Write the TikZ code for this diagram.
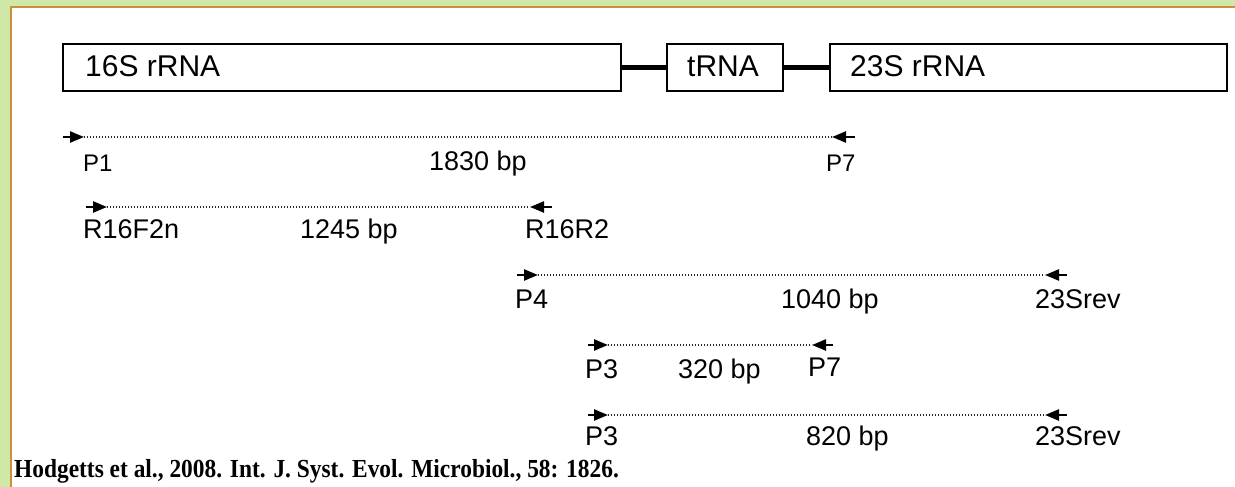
\documentclass[tikz,border=0pt]{standalone}
\usepackage{fontspec}
\setmainfont{Liberation Sans}
\newfontfamily\citefont[FakeStretch=0.9]{Liberation Serif}
\usetikzlibrary{arrows.meta}
\definecolor{bggreen}{HTML}{CFE8A8}
\definecolor{frameorange}{HTML}{C8923A}
\tikzset{
  gene/.style={draw=black, line width=1.8pt, fill=white},
  genelabel/.style={anchor=base west, inner sep=0pt, font=\fontsize{30}{30}\selectfont},
  link/.style={line width=5pt},
  amplicon/.style={draw=black!85, line width=1.2pt, dash pattern=on 1.4pt off 1.6pt},
  primer/.style={line width=2.4pt, -{Triangle[length=14pt,width=11pt]}},
  lab/.style={anchor=base west, inner sep=0pt, font=\fontsize{27}{27}\selectfont},
  smalllab/.style={anchor=base west, inner sep=0pt, font=\fontsize{24}{24}\selectfont},
}
\begin{document}
\begin{tikzpicture}[x=1pt,y=-1pt]
\useasboundingbox (0,0) rectangle (1235,487);
\fill[bggreen] (0,0) rectangle (1235,487);
\fill[white] (12,8) rectangle (1235,487);
\draw[frameorange, line width=2pt] (11,487) -- (11,7) -- (1235,7);
% genes
\draw[gene] (63,44) rectangle (621,91);
\draw[gene] (667,44) rectangle (783,91);
\draw[gene] (830,44) rectangle (1227,91);
\coordinate (g16r) at (621,67.5);
\coordinate (gtl) at (667,67.5);
\coordinate (gtr) at (783,67.5);
\coordinate (g23l) at (830,67.5);
\draw[link] (g16r) -- (gtl);
\draw[link] (gtr) -- (g23l);
\node[genelabel] (l16) at (85,77) {16S rRNA};
\node[genelabel] (lt) at (687,77) {tRNA};
\node[genelabel] (l23) at (850,77) {23S rRNA};
% row 1
\coordinate (a1) at (63,137); \coordinate (a1t) at (84,137);
\coordinate (b1) at (855,137); \coordinate (b1t) at (832,137);
\draw[amplicon] (a1t) -- (b1t);
\draw[primer] (a1) -- (a1t);
\draw[primer] (b1) -- (b1t);
\node[smalllab] (p1) at (83,171) {P1};
\node[lab] (s1) at (429,170) {1830 bp};
\node[smalllab] (p7a) at (826,171) {P7};
% row 2
\coordinate (a2) at (86,207); \coordinate (a2t) at (107,207);
\coordinate (b2) at (552,207); \coordinate (b2t) at (530,207);
\draw[amplicon] (a2t) -- (b2t);
\draw[primer] (a2) -- (a2t);
\draw[primer] (b2) -- (b2t);
\node[lab] (r16f) at (83,238) {R16F2n};
\node[lab] (s2) at (300,238) {1245 bp};
\node[lab] (r16r) at (525,238) {R16R2};
% row 3
\coordinate (a3) at (517,275); \coordinate (a3t) at (538,275);
\coordinate (b3) at (1067,275); \coordinate (b3t) at (1045,275);
\draw[amplicon] (a3t) -- (b3t);
\draw[primer] (a3) -- (a3t);
\draw[primer] (b3) -- (b3t);
\node[lab] (p4) at (515,308) {P4};
\node[lab] (s3) at (781,308) {1040 bp};
\node[lab] (r23a) at (1035,308) {23Srev};
% row 4
\coordinate (a4) at (588,345); \coordinate (a4t) at (608,345);
\coordinate (b4) at (833,345); \coordinate (b4t) at (812,345);
\draw[amplicon] (a4t) -- (b4t);
\draw[primer] (a4) -- (a4t);
\draw[primer] (b4) -- (b4t);
\node[lab] (p3a) at (585,378) {P3};
\node[lab] (s4) at (678,378) {320 bp};
\node[lab] (p7b) at (808,376) {P7};
% row 5
\coordinate (a5) at (588,415); \coordinate (a5t) at (608,415);
\coordinate (b5) at (1067,415); \coordinate (b5t) at (1045,415);
\draw[amplicon] (a5t) -- (b5t);
\draw[primer] (a5) -- (a5t);
\draw[primer] (b5) -- (b5t);
\node[lab] (p3b) at (585,445) {P3};
\node[lab] (s5) at (806,445) {820 bp};
\node[lab] (r23b) at (1035,445) {23Srev};
% citation
\node[anchor=base west, inner sep=0pt, font=\citefont\bfseries\fontsize{26}{26}\selectfont] (cite) at (14,477) {Hodgetts et al., 2008. Int. J. Syst. Evol. Microbiol., 58: 1826.};
\end{tikzpicture}
\end{document}
